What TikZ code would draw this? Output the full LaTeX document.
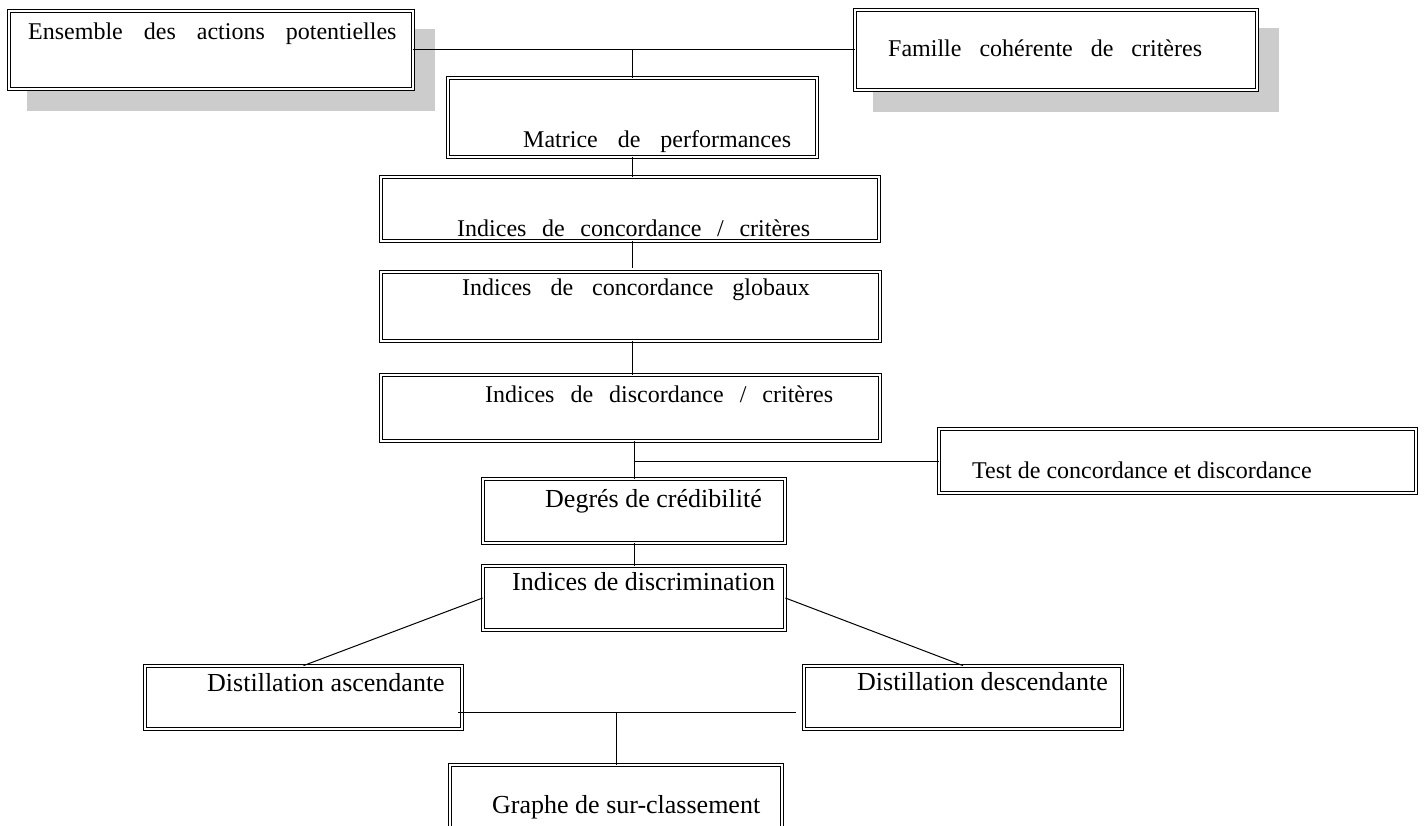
\documentclass[tikz,border=0pt]{standalone}
\usepackage{fontspec}
\setmainfont{Liberation Serif}
\newcommand{\wsp}[1]{\spaceskip=#1pt plus 0pt minus 0pt\relax}
\begin{document}
\begin{tikzpicture}[x=1pt,y=-1pt,
  box/.style={draw, double, double distance=2.4pt, line width=0.8pt, fill=white, inner sep=0pt, rectangle},
  shade/.style={fill=black!20, draw=none},
  conn/.style={line width=1pt},
  txt/.style={anchor=base west, inner sep=0pt, font=\fontsize{24}{28}\selectfont},
  big/.style={anchor=base west, inner sep=0pt, font=\fontsize{26}{30}\selectfont}]
\useasboundingbox (0,0) rectangle (1424,826);

% shadows
\fill[shade] (27,29) rectangle (435,111);
\fill[shade] (873,28) rectangle (1279,112);

% boxes (centre, path size = outer size - 4)
\node[box, minimum width=404pt, minimum height=78pt] (ens) at (211,50) {};
\node[box, minimum width=402pt, minimum height=80pt] (fam) at (1056,50) {};
\node[box, minimum width=369pt, minimum height=79pt] (mat) at (632.5,117.5) {};
\node[box, minimum width=498pt, minimum height=64pt] (ic) at (630,209) {};
\node[box, minimum width=499pt, minimum height=69pt] (ig) at (630.5,306.5) {};
\node[box, minimum width=499pt, minimum height=66pt] (id) at (630.5,408) {};
\node[box, minimum width=477pt, minimum height=64pt] (test) at (1177.5,461) {};
\node[box, minimum width=302pt, minimum height=64pt] (deg) at (634,511) {};
\node[box, minimum width=302pt, minimum height=64pt] (disc) at (634,598) {};
\node[box, minimum width=317pt, minimum height=63pt] (asc) at (303.5,697.5) {};
\node[box, minimum width=318pt, minimum height=63pt] (desc) at (963,697.5) {};
\node[box, minimum width=332pt, minimum height=65pt] (gra) at (616,797.5) {};

% connectors
\draw[conn] (ens.east) -- (fam.west);
\draw[conn] (mat.north) -- (mat.north |- ens.east);
\draw[conn] (mat.south) -- (mat.south |- ic.north);
\draw[conn] (mat.south |- ic.south) -- ([yshift=4]mat.south |- ig.north);
\draw[conn] (mat.south |- ig.south) -- (mat.south |- id.north);
\draw[conn] (deg.north |- id.south) -- (deg.north);
\draw[conn] (test.west) -- (test.west -| deg.north);
\draw[conn] (deg.south) -- (disc.north);
\draw[conn] (disc.west) -- (asc.north);
\draw[conn] (disc.east) -- (desc.north);
\coordinate (hl) at (458,712);
\coordinate (hr) at (796,712);
\draw[conn] (hl) -- (hr);
\draw[conn] (gra.north) -- (gra.north |- hr);

% texts
\node[txt] (tens) at (28,39.5) {\wsp{21}Ensemble des actions potentielles};
\node[txt] (tfam) at (888,57) {\wsp{18}Famille cohérente de critères};
\node[txt] (tmat) at (523,148) {\wsp{20}Matrice de performances};
\node[txt] (tic) at (457,237) {\wsp{15.6}Indices de concordance / critères};
\node[txt] (tig) at (462,295) {\wsp{19}Indices de concordance globaux};
\node[txt] (tid) at (485,402) {\wsp{16}Indices de discordance / critères};
\node[txt] (ttest) at (972,478) {Test de concordance et discordance};
\node[big] (tdeg) at (545,507) {Degrés de crédibilité};
\node[big] (tdisc) at (512,590) {Indices de discrimination};
\node[big] (tasc) at (207,691) {Distillation ascendante};
\node[big] (tdesc) at (857,690) {Distillation descendante};
\node[big] (tgra) at (492,813) {Graphe de sur-classement};
\end{tikzpicture}
\end{document}
